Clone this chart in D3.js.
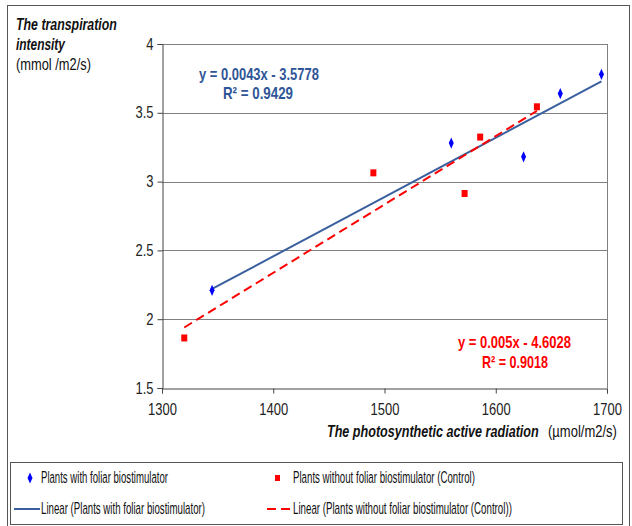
<!DOCTYPE html>
<html><head><meta charset="utf-8">
<script src="https://cdn.jsdelivr.net/npm/d3@7"></script>
<style>
body{margin:0;background:#fff;}
svg text{font-family:"Liberation Sans",Arial,sans-serif;}
</style></head>
<body><svg id="c" width="632" height="526"></svg>
<script>
const withX = [1345, 1560, 1625, 1658, 1695];
const withY = [2.21, 3.28, 3.18, 3.64, 3.78];
const ctrlX = [1320, 1490, 1572, 1586, 1637];
const ctrlY = [1.86, 3.06, 2.91, 3.32, 3.54];
const xTicks = [1300, 1400, 1500, 1600, 1700];
const yTicks = [1.5, 2, 2.5, 3, 3.5, 4];
const seriesNames = ["Plants with foliar biostimulator", "Plants without foliar biostimulator (Control)"];
const trendNames = ["Linear (Plants with foliar biostimulator)", "Linear (Plants without foliar biostimulator (Control))"];
const eqWith = ["y = 0.0043x - 3.5778", "R² = 0.9429"];
const eqCtrl = ["y = 0.005x - 4.6028", "R² = 0.9018"];

const svg = d3.select("#c");
const blue = "#0000ff", red = "#ff0000", trendBlue = "#3a5f9e";
const x = d3.scaleLinear().domain([1300, 1700]).range([162, 607]);
const y = d3.scaleLinear().domain([1.5, 4]).range([388, 44]);

// condensed text: scaled horizontally to a given width
function txt(g, s, tx, ty, w, opts = {}) {
  const t = g.append("text").attr("x", 0).attr("y", 0).text(s);
  if (opts.size) t.attr("font-size", opts.size);
  if (opts.bold) t.attr("font-weight", "bold");
  if (opts.italic) t.attr("font-style", "italic");
  if (opts.fill) t.attr("fill", opts.fill);
  const n = t.node().getComputedTextLength();
  t.attr("transform", `translate(${tx},${ty}) scale(${w / n},1)`);
  return t;
}

// outer frame
svg.append("rect").attr("x", 7.5).attr("y", 5.5).attr("width", 622).attr("height", 530)
  .attr("fill", "none").attr("stroke", "#555").attr("stroke-width", 1);

// gridlines
svg.append("g").selectAll("line").data(yTicks.slice(1)).join("line")
  .attr("x1", x(1300)).attr("x2", x(1700)).attr("y1", d => Math.round(y(d)) + 0.5).attr("y2", d => Math.round(y(d)) + 0.5)
  .attr("stroke", "#808080").attr("stroke-width", 1);
svg.append("line").attr("x1", x(1700) + 0.5).attr("x2", x(1700) + 0.5).attr("y1", y(4)).attr("y2", y(1.5))
  .attr("stroke", "#808080");

// axes
const yAxis = d3.axisLeft(y).tickValues(yTicks).tickSize(5).tickPadding(4).tickFormat(d3.format("~g"));
const gy = svg.append("g").attr("transform", `translate(${x(1300) + 0.5},0)`).call(yAxis);
const xAxis = d3.axisBottom(x).tickValues(xTicks).tickSize(5).tickPadding(10).tickFormat(d3.format("d"));
const gx = svg.append("g").attr("transform", `translate(0,${y(1.5) + 0.5})`).call(xAxis);
[gy, gx].forEach(g => {
  g.select(".domain").attr("stroke", "#444");
  g.selectAll(".tick line").attr("stroke", "#444");
  g.selectAll("text").attr("font-size", 16).attr("fill", "#222")
   .attr("font-family", '"Liberation Sans",Arial,sans-serif');
});
gy.selectAll(".tick text").attr("x", 0).attr("transform", "translate(-9,0) scale(0.81,1)");
gx.selectAll(".tick text").attr("transform", "scale(0.81,1)");

// regression
function fit(xs, ys) {
  const mx = d3.mean(xs), my = d3.mean(ys);
  let sxy = 0, sxx = 0;
  xs.forEach((v, i) => { sxy += (v - mx) * (ys[i] - my); sxx += (v - mx) ** 2; });
  const b = sxy / sxx, a = my - b * mx;
  const x0 = d3.min(xs), x1 = d3.max(xs);
  return [[x0, a + b * x0], [x1, a + b * x1]];
}
const line = d3.line().x(d => x(d[0])).y(d => y(d[1]));
svg.append("path").attr("d", line(fit(withX, withY))).attr("stroke", trendBlue).attr("stroke-width", 2).attr("fill", "none");
svg.append("path").attr("d", line(fit(ctrlX, ctrlY))).attr("stroke", red).attr("stroke-width", 2)
  .attr("stroke-dasharray", "9,5").attr("fill", "none");

// points
const diamond = d3.symbol().type(d3.symbolDiamond).size(30);
svg.append("g").selectAll("path").data(withX.map((v, i) => [v, withY[i]])).join("path")
  .attr("d", diamond).attr("transform", d => `translate(${x(d[0])},${y(d[1])}) scale(0.85,1.1)`).attr("fill", blue);
svg.append("g").selectAll("rect").data(ctrlX.map((v, i) => [v, ctrlY[i]])).join("rect")
  .attr("x", d => x(d[0]) - 3).attr("y", d => y(d[1]) - 4).attr("width", 6).attr("height", 7).attr("fill", red);

// equations
const eqg = svg.append("g");
txt(eqg, eqWith[0], 199, 80, 120, {size: 16, bold: true, fill: "#2f5597"});
txt(eqg, eqWith[1], 223, 99, 70, {size: 16, bold: true, fill: "#2f5597"});
txt(eqg, eqCtrl[0], 458, 348, 113, {size: 16, bold: true, fill: red});
txt(eqg, eqCtrl[1], 482, 368, 66, {size: 16, bold: true, fill: red});

// y title
const tg = svg.append("g").attr("fill", "#111");
txt(tg, "The transpiration", 16, 30, 101, {size: 16, bold: true, italic: true});
txt(tg, "intensity", 16, 50, 49, {size: 16, bold: true, italic: true});
txt(tg, "(mmol /m2/s)", 16, 70, 75, {size: 16});

// x title
txt(tg, "The photosynthetic active radiation", 327, 437, 212, {size: 16, bold: true, italic: true});
txt(tg, "(µmol/m2/s)", 548, 437, 69, {size: 16});

// legend
svg.append("rect").attr("x", 10.5).attr("y", 462.5).attr("width", 612).attr("height", 62)
  .attr("fill", "#fff").attr("stroke", "#555");
const lg = svg.append("g").attr("fill", "#111");
lg.append("path").attr("d", diamond).attr("transform", "translate(30,478) scale(0.85,1.1)").attr("fill", blue);
txt(lg, seriesNames[0], 41, 483, 127, {size: 17});
lg.append("rect").attr("x", 275).attr("y", 475).attr("width", 5).attr("height", 6).attr("fill", red);
txt(lg, seriesNames[1], 293, 483, 182, {size: 17});
lg.append("line").attr("x1", 14).attr("x2", 40).attr("y1", 509).attr("y2", 509).attr("stroke", trendBlue).attr("stroke-width", 2);
txt(lg, trendNames[0], 41, 514, 164, {size: 17});
lg.append("line").attr("x1", 267).attr("x2", 291).attr("y1", 509).attr("y2", 509).attr("stroke", red).attr("stroke-width", 2).attr("stroke-dasharray", "9,5");
txt(lg, trendNames[1], 293, 514, 219, {size: 17});
</script></body></html>
